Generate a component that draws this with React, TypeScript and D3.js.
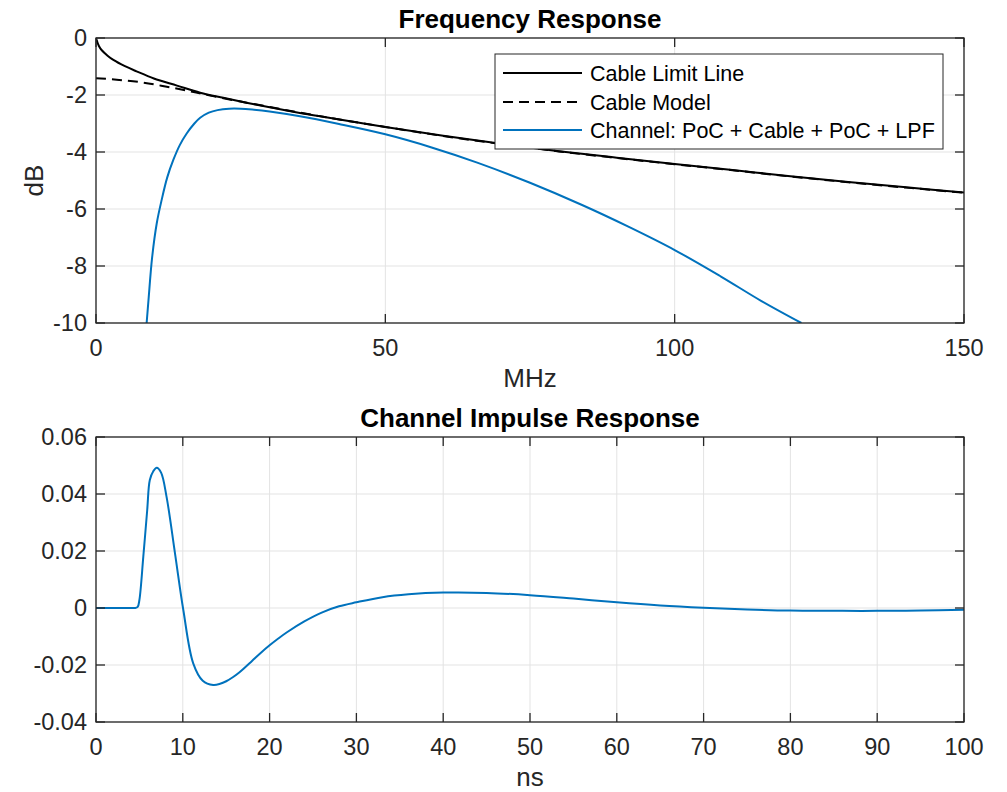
import React from "react";
import * as d3 from "d3";

// ---------- data ----------
const limitFreq = [0, 0.5, 1, 2, 3, 5, 7, 10, 14, 18, 22, 26, 30, 35, 40, 50, 60, 70, 80, 90, 100, 110, 120, 130, 140, 150];
const limitDb = [0, -0.28, -0.43, -0.62, -0.77, -0.99, -1.17, -1.42, -1.67, -1.92, -2.1, -2.27, -2.43, -2.62, -2.79, -3.12, -3.43, -3.71, -3.97, -4.2, -4.42, -4.63, -4.85, -5.05, -5.24, -5.42];

const modelFreq = [0, 4, 8, 12, 16, 20, 25, 30, 35, 40, 50, 60, 70, 80, 90, 100, 110, 120, 130, 140, 150];
const modelDb = [-1.41, -1.47, -1.56, -1.7, -1.86, -2.03, -2.23, -2.42, -2.61, -2.79, -3.12, -3.44, -3.72, -3.98, -4.21, -4.43, -4.64, -4.86, -5.06, -5.25, -5.43];

const chanFreq = [8.75, 9.07, 9.7, 10.5, 11.35, 12.3, 13.36, 14.5, 15.67, 17, 18, 19.5, 21, 23, 25, 27, 30, 35, 42, 50, 58, 66, 75, 84, 92, 100, 108, 115, 121.9];
const chanDb = [-10, -9.2, -7.7, -6.5, -5.68, -4.9, -4.28, -3.75, -3.35, -3.0, -2.8, -2.62, -2.53, -2.48, -2.48, -2.51, -2.58, -2.74, -3.02, -3.38, -3.84, -4.38, -5.08, -5.86, -6.62, -7.44, -8.37, -9.23, -10];

const impTime = [0, 2, 4, 4.5, 4.8, 5.0, 5.45, 5.9, 6.2, 6.6, 7.0, 7.5, 8.13, 9.1, 10.06, 11.2, 12.3, 13.5, 14.3, 15, 15.8, 16.5, 17, 18, 19, 20, 21, 22, 24, 26, 28, 30, 33, 36, 40, 45, 50, 55, 60, 65, 70, 75, 80, 86, 90, 95, 100];
const impVal = [0, 0, 0, 0, 0.0004, 0.0028, 0.018, 0.0344, 0.0449, 0.048, 0.0492, 0.0475, 0.039, 0.0192, -0.0007, -0.0194, -0.0255, -0.027, -0.0266, -0.0257, -0.0242, -0.0226, -0.0213, -0.0185, -0.0157, -0.0131, -0.0107, -0.0085, -0.0047, -0.0016, 0.0006, 0.002, 0.0038, 0.0048, 0.0054, 0.0053, 0.0045, 0.0033, 0.002, 0.0009, 0.0001, -0.0005, -0.0009, -0.001, -0.001, -0.0009, -0.0006];

const freqTicks = [0, 50, 100, 150];
const dbTicks = [0, -2, -4, -6, -8, -10];
const timeTicks = [0, 10, 20, 30, 40, 50, 60, 70, 80, 90, 100];
const impTicks = [0.06, 0.04, 0.02, 0, -0.02, -0.04];

const legendLabels = ["Cable Limit Line", "Cable Model", "Channel: PoC + Cable + PoC + LPF"];

// ---------- style ----------
const W = 1007;
const H = 792;
const FONT = "'Liberation Sans', Arial, Helvetica, sans-serif";
const AX = "#262626";
const GRID = "#e3e3e3";
const BLUE = "#0072BD";
const TICK_FS = 23.5;
const LABEL_FS = 26;
const LEG_FS = 21.5;
const TICK_LEN = 9;

type Pt = [number, number];
const zip = (a: number[], b: number[]): Pt[] => a.map((v, i) => [v, b[i]]);

function fmtImp(v: number) {
  if (v === 0) return "0";
  return v.toFixed(2);
}

interface AxesProps {
  x0: number; x1: number; y0: number; y1: number;
  xDomain: [number, number]; yDomain: [number, number];
  xTicks: number[]; yTicks: number[];
  yFmt: (v: number) => string;
  title: string; xLabel: string; yLabel?: string;
  series: { pts: Pt[]; color: string; dash?: string }[];
  clipId: string;
}

function Axes(p: AxesProps) {
  const x = d3.scaleLinear().domain(p.xDomain).range([p.x0, p.x1]);
  const y = d3.scaleLinear().domain(p.yDomain).range([p.y1, p.y0]);
  const line = d3.line<Pt>().x(d => x(d[0])).y(d => y(d[1])).curve(d3.curveCatmullRom.alpha(0.5));
  const cx = (p.x0 + p.x1) / 2;
  const cy = (p.y0 + p.y1) / 2;
  return (
    <g>
      <defs>
        <clipPath id={p.clipId}>
          <rect x={p.x0} y={p.y0} width={p.x1 - p.x0} height={p.y1 - p.y0} />
        </clipPath>
      </defs>
      <rect x={p.x0} y={p.y0} width={p.x1 - p.x0} height={p.y1 - p.y0} fill="#fff" />
      {p.xTicks.map(t => (
        <line key={"gx" + t} x1={x(t)} x2={x(t)} y1={p.y0} y2={p.y1} stroke={GRID} strokeWidth={1} />
      ))}
      {p.yTicks.map(t => (
        <line key={"gy" + t} x1={p.x0} x2={p.x1} y1={y(t)} y2={y(t)} stroke={GRID} strokeWidth={1} />
      ))}
      <g clipPath={`url(#${p.clipId})`}>
        {p.series.map((s, i) => (
          <path key={i} d={line(s.pts) || ""} fill="none" stroke={s.color} strokeWidth={2}
            strokeDasharray={s.dash} strokeLinejoin="round" />
        ))}
      </g>
      <rect x={p.x0} y={p.y0} width={p.x1 - p.x0} height={p.y1 - p.y0} fill="none" stroke={AX} strokeWidth={1.3} />
      {p.xTicks.map(t => (
        <g key={"tx" + t}>
          <line x1={x(t)} x2={x(t)} y1={p.y1} y2={p.y1 - TICK_LEN} stroke={AX} strokeWidth={1.3} />
          <line x1={x(t)} x2={x(t)} y1={p.y0} y2={p.y0 + TICK_LEN} stroke={AX} strokeWidth={1.3} />
          <text x={x(t)} y={p.y1 + 33} textAnchor="middle" fontSize={TICK_FS} fill={AX} fontFamily={FONT}>{t}</text>
        </g>
      ))}
      {p.yTicks.map(t => (
        <g key={"ty" + t}>
          <line x1={p.x0} x2={p.x0 + TICK_LEN} y1={y(t)} y2={y(t)} stroke={AX} strokeWidth={1.3} />
          <line x1={p.x1} x2={p.x1 - TICK_LEN} y1={y(t)} y2={y(t)} stroke={AX} strokeWidth={1.3} />
          <text x={p.x0 - 9} y={y(t) + 8} textAnchor="end" fontSize={TICK_FS} fill={AX} fontFamily={FONT}>{p.yFmt(t)}</text>
        </g>
      ))}
      <text x={cx} y={p.y0 - 10} textAnchor="middle" fontSize={LABEL_FS} fontWeight="bold" fill="#000" fontFamily={FONT}>{p.title}</text>
      <text x={cx} y={p.y1 + 64} textAnchor="middle" fontSize={LABEL_FS} fill={AX} fontFamily={FONT}>{p.xLabel}</text>
      {p.yLabel && (
        <text transform={`translate(43,${cy}) rotate(-90)`} textAnchor="middle" fontSize={LABEL_FS} fill={AX} fontFamily={FONT}>{p.yLabel}</text>
      )}
    </g>
  );
}

export default function App() {
  const topSeries = [
    { pts: zip(limitFreq, limitDb), color: "#000" },
    { pts: zip(modelFreq, modelDb), color: "#000", dash: "10,6" },
    { pts: zip(chanFreq, chanDb), color: BLUE },
  ];
  const botSeries = [{ pts: zip(impTime, impVal), color: BLUE }];

  const legX = 495, legY = 54, legW = 448, legH = 95;
  const rowY = [73, 102, 130];
  const legStyles = [
    { color: "#000", dash: undefined as string | undefined },
    { color: "#000", dash: "10,6" },
    { color: BLUE, dash: undefined },
  ];

  return (
    <svg width={W} height={H} style={{ position: "absolute", left: 0, top: 0, display: "block", background: "#fff" }}>
      <rect x={0} y={0} width={W} height={H} fill="#fff" />
      <Axes x0={96} x1={964} y0={38} y1={323} xDomain={[0, 150]} yDomain={[-10, 0]}
        xTicks={freqTicks} yTicks={dbTicks} yFmt={v => String(v)}
        title="Frequency Response" xLabel="MHz" yLabel="dB" series={topSeries} clipId="clipTop" />
      <g>
        <rect x={legX} y={legY} width={legW} height={legH} fill="#fff" stroke={AX} strokeWidth={1} />
        {legendLabels.map((lab, i) => (
          <g key={lab}>
            <line x1={503} x2={582} y1={rowY[i]} y2={rowY[i]} stroke={legStyles[i].color} strokeWidth={2}
              strokeDasharray={legStyles[i].dash} />
            <text x={590} y={rowY[i] + 7.5} fontSize={LEG_FS} fill="#000" fontFamily={FONT}>{lab}</text>
          </g>
        ))}
      </g>
      <Axes x0={96} x1={964} y0={437} y1={722} xDomain={[0, 100]} yDomain={[-0.04, 0.06]}
        xTicks={timeTicks} yTicks={impTicks} yFmt={fmtImp}
        title="Channel Impulse Response" xLabel="ns" series={botSeries} clipId="clipBot" />
    </svg>
  );
}
